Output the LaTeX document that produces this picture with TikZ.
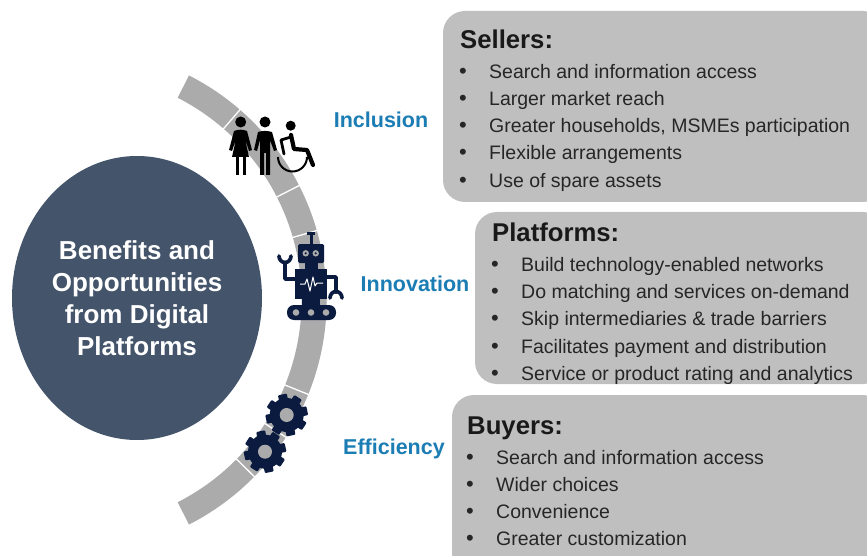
\documentclass[tikz,border=0pt]{standalone}
\usepackage{fontspec}
\setmainfont{Liberation Sans}
\usetikzlibrary{positioning,shapes.geometric}
\definecolor{navy}{HTML}{44546A}
\definecolor{icon}{HTML}{0B1B40}
\definecolor{band}{HTML}{ABABAB}
\definecolor{panel}{HTML}{BFBFBF}
\definecolor{tag}{HTML}{1B7DB4}
\tikzset{
	panelbox/.style={fill=panel, rounded corners=22pt},
	title/.style={anchor=base west, inner sep=0pt, font=\bfseries\fontsize{25.7}{25.7}\selectfont, text=black!90},
	item/.style={anchor=base west, inner sep=0pt, font=\fontsize{19.5}{19.5}\selectfont, text=black!85},
	dot/.style={anchor=base, inner sep=0pt, font=\fontsize{22}{22}\selectfont, text=black!85},
	tagtext/.style={anchor=center, inner sep=0pt, font=\bfseries\fontsize{21.5}{21.5}\selectfont, text=tag},
	limb/.style={draw=icon, line width=3.7pt, line cap=round, line join=round},
	person/.style={draw=black, line width=4.2pt, line cap=round, line join=round},
}
\newcommand{\gearicon}[2]{
	\foreach \a in {0,45,...,315}
		\fill[icon, rounded corners=1pt, rotate around={\a+12:(#1,#2)}] (#1-4.5,#2-21) rectangle (#1+4.5,#2);
	\fill[icon] (#1,#2) circle (17);
	\fill[band] (#1,#2) circle (7);
}
\begin{document}
\begin{tikzpicture}[x=1pt,y=-1pt]
	\useasboundingbox (0,0) rectangle (867,556);
	\clip (0,0) rectangle (867,556);
	% band
	\fill[band] (74.6,300) ++(-63:252) arc[start angle=-63, end angle=63, radius=252] -- ++(-117:25) arc[start angle=63, end angle=-63, radius=227] -- cycle;
	\foreach \a in {-49,-27,-16,22,33,44.5}
		\draw[white, line width=1.3pt] (74.6,300) ++(\a:226) -- ++(\a:27);
	% centre
	\node (hub) [fill=navy, ellipse, minimum width=250pt, minimum height=284pt, inner sep=0pt, text=white, align=center, font=\bfseries\fontsize{26}{32}\selectfont] at (137,298) {Benefits and\\Opportunities\\from Digital\\Platforms};
	% panels
	\fill[panelbox] (443,11) rectangle (885,202);
	\fill[panelbox] (475,212) rectangle (885,384);
	\fill[panelbox] (452,395) rectangle (885,575);
	% tags
	\node (inclusion) [tagtext] at (381,120) {Inclusion};
	\node (innovation) [tagtext] at (415,284) {Innovation};
	\node (efficiency) [tagtext] at (394,449) {Efficiency};
	% sellers
	\node (sellers) [title] at (460,49) {Sellers:};
	\foreach \txt/\ypos [count=\i] in {Search and information access/79, Larger market reach/106, {Greater households, MSMEs participation}/133, Flexible arrangements/160, Use of spare assets/187.5} {
		\node (sellers\i) [item] at (489,\ypos) {\txt};
		\node (sellersdot\i) [dot] at (463,\ypos) {•};
	}
	% platforms
	\node (platforms) [title] at (492,241) {Platforms:};
	\foreach \txt/\ypos [count=\i] in {Build technology-enabled networks/271, Do matching and services on-demand/298, Skip intermediaries \& trade barriers/325.5, Facilitates payment and distribution/353, Service or product rating and analytics/380} {
		\node (platforms\i) [item] at (521,\ypos) {\txt};
		\node (platformsdot\i) [dot] at (495,\ypos) {•};
	}
	% buyers
	\node (buyers) [title] at (467,434) {Buyers:};
	\foreach \txt/\ypos [count=\i] in {Search and information access/464.5, Wider choices/491, Convenience/518.5, Greater customization/545} {
		\node (buyers\i) [item] at (496,\ypos) {\txt};
		\node (buyersdot\i) [dot] at (470,\ypos) {•};
	}
	% people
	\fill (240.7,122) circle (5.5);
	\fill (229,150) -- (234,131) to[bend left=20] (247,131) -- (252,150) -- (249,151) -- (245,139) -- (249,157) -- (232,157) -- (236,139) -- (232,151) -- cycle;
	\fill (235.5,156) rectangle (238.8,175);
	\fill (242.6,156) rectangle (245.9,175);
	\fill (265,122) circle (5.5);
	\fill (254,150) -- (258,132) to[bend left=15] (272,132) -- (277,150) -- (274,151) -- (270,140) -- (270,175) -- (266,175) -- (266,153) -- (264,153) -- (264,175) -- (260,175) -- (260,140) -- (257,151) -- cycle;
	\fill (290.7,125.7) circle (5);
	\draw[person] (291,135) -- (294,149) -- (307,150) -- (313,165);
	\draw[person, line width=2.8pt] (291,137) -- (281,140) -- (284,154);
	\draw[black, line width=2pt] (278,157) arc[start angle=180, end angle=0, x radius=14.5, y radius=14.5];
	% robot
	\fill[icon] (309.5,233) rectangle (312.5,245);
	\fill[icon] (307,232) rectangle (315,235);
	\fill[icon, rounded corners=1.5pt] (298,244) rectangle (324,263);
	\fill[icon] (305,263) rectangle (318,269);
	\fill[icon] (295,269) rectangle (327,299);
	\fill[icon] (302,299) rectangle (320,306);
	\fill[icon, rounded corners=7pt] (287,305) rectangle (336,320);
	\foreach \xpos in {305.7,315.7} {
		\fill[band] (\xpos,253.3) circle (3.2);
		\fill[icon] (\xpos,253.3) circle (1.2);
	}
	\foreach \xpos in {296,311,326}
		\fill[band] (\xpos,312.5) circle (3.3);
	\draw[white, line width=1pt, line join=round] (300,284) -- (305,284) -- (307,279) -- (310,291) -- (313,277) -- (315,286) -- (317,283) -- (323,283);
	\draw[limb] (295,279) -- (285,279) -- (285,264);
	\draw[limb] (279,256) arc[start angle=180, end angle=0, x radius=6, y radius=6.5];
	\draw[limb] (327,277) -- (336,277) -- (336,292);
	\draw[limb] (330,298) arc[start angle=180, end angle=0, x radius=6, y radius=-6.5];
	% gears
	\gearicon{286.7}{415}
	\gearicon{265}{451.7}
\end{tikzpicture}
\end{document}
